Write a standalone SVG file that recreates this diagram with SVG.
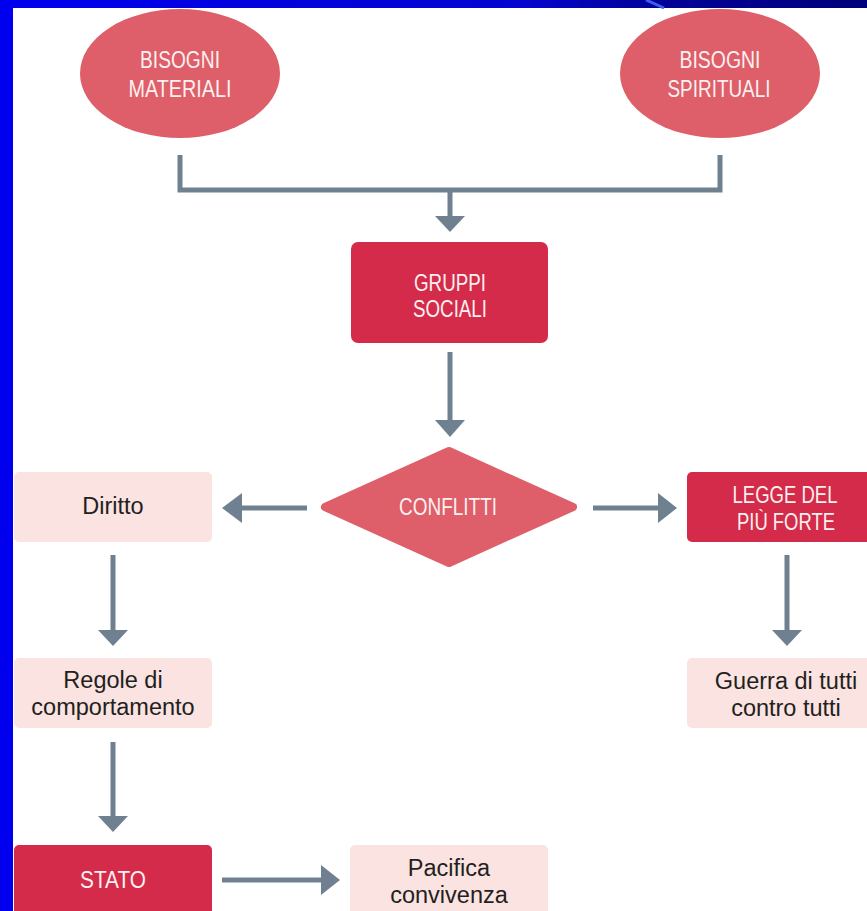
<svg xmlns="http://www.w3.org/2000/svg" width="867" height="911" viewBox="0 0 867 911">
<defs>
<style>
.cap{font-family:"Liberation Sans",Arial,sans-serif;font-size:23.5px;fill:#fdf0f0;text-anchor:middle;}
.low{font-family:"Liberation Sans",Arial,sans-serif;font-size:23.5px;fill:#231f20;text-anchor:middle;}
.ell{fill:#de5f69;}
.dark{fill:#d42b4b;}
.light{fill:#fae3e1;}
.conn{stroke:#6f8190;stroke-width:5;fill:none;}
.head{fill:#6f8190;}
</style>
<linearGradient id="topband" x1="0" y1="0" x2="1" y2="0">
<stop offset="0" stop-color="#0000ee"/>
<stop offset="0.6" stop-color="#0505d0"/>
<stop offset="0.75" stop-color="#02029a"/>
<stop offset="1" stop-color="#00007a"/>
</linearGradient>
</defs>
<rect x="0" y="0" width="867" height="911" fill="#ffffff"/>

<g id="bisogni-materiali">
<ellipse class="ell" cx="180" cy="73.5" rx="100" ry="64.5"/>
<text class="cap" x="180" y="68" textLength="80" lengthAdjust="spacingAndGlyphs">BISOGNI</text>
<text class="cap" x="180" y="97" textLength="103" lengthAdjust="spacingAndGlyphs">MATERIALI</text>
</g>
<g id="bisogni-spirituali">
<ellipse class="ell" cx="720" cy="73.5" rx="100" ry="64.5"/>
<text class="cap" x="720" y="68" textLength="81" lengthAdjust="spacingAndGlyphs">BISOGNI</text>
<text class="cap" x="719" y="97" textLength="103" lengthAdjust="spacingAndGlyphs">SPIRITUALI</text>
</g>
<g id="gruppi-sociali">
<rect class="dark" x="351" y="242" width="197" height="101" rx="7"/>
<text class="cap" x="450" y="291" textLength="72" lengthAdjust="spacingAndGlyphs">GRUPPI</text>
<text class="cap" x="450" y="317" textLength="74" lengthAdjust="spacingAndGlyphs">SOCIALI</text>
</g>
<g id="conflitti">
<path d="M325,507 L449,451 L573,507 L449,563 Z" fill="#de5f69" stroke="#de5f69" stroke-width="8" stroke-linejoin="round"/>
<text class="cap" x="448" y="515" textLength="98" lengthAdjust="spacingAndGlyphs">CONFLITTI</text>
</g>
<g id="diritto">
<rect class="light" x="14" y="472" width="198" height="70" rx="5"/>
<text class="low" x="113" y="514">Diritto</text>
</g>
<g id="regole">
<rect class="light" x="14" y="658" width="198" height="70" rx="5"/>
<text class="low" x="113" y="688">Regole di</text>
<text class="low" x="113" y="715">comportamento</text>
</g>
<g id="stato">
<rect class="dark" x="14" y="845" width="198" height="80" rx="5"/>
<text class="cap" x="113" y="888" textLength="66" lengthAdjust="spacingAndGlyphs">STATO</text>
</g>
<g id="pacifica">
<rect class="light" x="350" y="845" width="198" height="80" rx="5"/>
<text class="low" x="449" y="876">Pacifica</text>
<text class="low" x="449" y="903">convivenza</text>
</g>
<g id="legge">
<rect class="dark" x="687" y="472" width="200" height="70" rx="5"/>
<text class="cap" x="785" y="503" textLength="105" lengthAdjust="spacingAndGlyphs">LEGGE DEL</text>
<text class="cap" x="786" y="530" textLength="98" lengthAdjust="spacingAndGlyphs">PIÙ FORTE</text>
</g>
<g id="guerra">
<rect class="light" x="687" y="658" width="200" height="70" rx="5"/>
<text class="low" x="786" y="689">Guerra di tutti</text>
<text class="low" x="786" y="716">contro tutti</text>
</g>

<g id="connectors">
<path class="conn" d="M180,155 V190 H720 V155"/>
<path class="conn" d="M450,190 V218"/>
<polygon class="head" points="435,216 465,216 450,232"/>
<path class="conn" d="M450,352 V422"/>
<polygon class="head" points="435,420 465,420 450,437"/>
<path class="conn" d="M307,508 H240"/>
<polygon class="head" points="242,493 242,523 222,508"/>
<path class="conn" d="M593,508 H660"/>
<polygon class="head" points="658,493 658,523 677,508"/>
<path class="conn" d="M113,555 V632"/>
<polygon class="head" points="98,630 128,630 113,646"/>
<path class="conn" d="M787,555 V632"/>
<polygon class="head" points="772,630 802,630 787,646"/>
<path class="conn" d="M113,742 V818"/>
<polygon class="head" points="98,816 128,816 113,832"/>
<path class="conn" d="M222,880 H322"/>
<polygon class="head" points="321,865 321,895 340,880"/>
</g>

<rect x="0" y="0" width="867" height="8" fill="url(#topband)"/>
<line x1="646" y1="0" x2="664" y2="8" stroke="#3a5ff0" stroke-width="3"/>
<rect x="0" y="0" width="13" height="911" fill="#0000ee"/>
</svg>
